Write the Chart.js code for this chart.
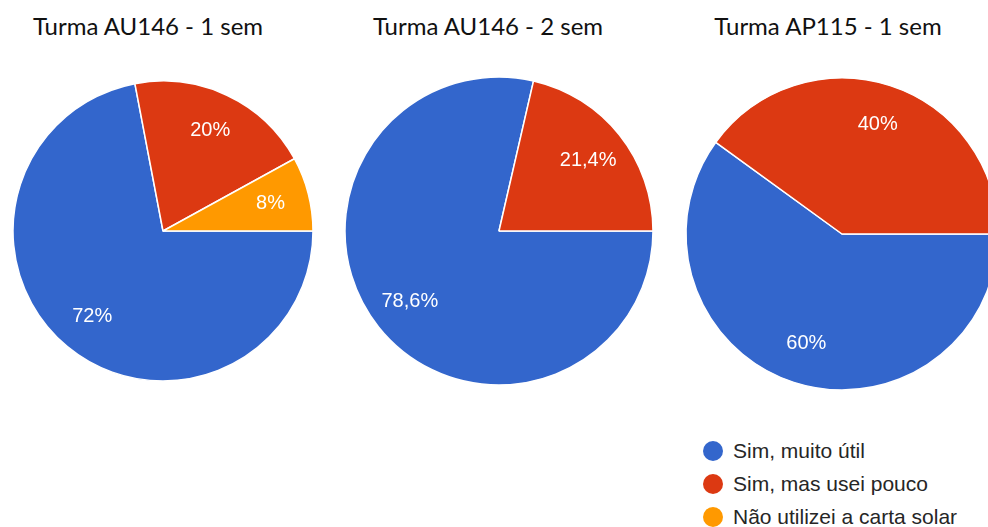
<!DOCTYPE html>
<html lang="pt-BR">
<head>
<meta charset="utf-8">
<title>Utilidade da carta solar por turma</title>
<script src="https://cdn.jsdelivr.net/npm/chart.js@4.4.1/dist/chart.umd.min.js"></script>
<style>
  html, body { margin: 0; padding: 0; background: #fff; }
  body { width: 988px; height: 527px; position: relative; overflow: hidden; }
  .title {
    position: absolute; width: 320px; text-align: center;
    font-family: Lato, "Open Sans", sans-serif; font-size: 24px; color: #111;
    line-height: 1; white-space: nowrap;
  }
  .pie { position: absolute; }
  #legend {
    position: absolute; left: 703px; top: 434px;
    font-family: "Liberation Sans", Arial, sans-serif; font-size: 21px; color: #262626;
  }
  #legend .item { height: 33px; display: flex; align-items: center; white-space: nowrap; }
  #legend .dot { width: 20px; height: 20px; border-radius: 50%; margin-right: 10px; flex: none; }
</style>
</head>
<body>
<div class="title" id="t0"></div>
<div class="title" id="t1"></div>
<div class="title" id="t2"></div>
<canvas class="pie" id="c0"></canvas>
<canvas class="pie" id="c1"></canvas>
<canvas class="pie" id="c2"></canvas>
<div id="legend"></div>
<script>
// Answer options (legend order) and their colours
const categories = ["Sim, muito útil", "Sim, mas usei pouco", "Não utilizei a carta solar"];
const colors = ["#3366CC", "#DC3912", "#FF9900"];

// One title and one percentage series per class
const titles = ["Turma AU146 - 1 sem", "Turma AU146 - 2 sem", "Turma AP115 - 1 sem"];
const au146sem1 = [72, 20, 8];
const au146sem2 = [78.6, 21.4, 0];
const ap115sem1 = [60, 40, 0];
const series = [au146sem1, au146sem2, ap115sem1];

// Placement of each pie: centre x, centre y, radius; title centre x
const pieBoxes = [
  { cx: 162.5, cy: 231, r: 150, tx: 148 },
  { cx: 498.5, cy: 231, r: 154, tx: 488 },
  { cx: 842,   cy: 234, r: 156, tx: 828 }
];

const fmt = v => String(v).replace('.', ',') + '%';

// Percentage labels inside each slice, along its bisector
const sliceLabels = {
  id: 'sliceLabels',
  afterDatasetsDraw(chart) {
    const ctx = chart.ctx;
    const meta = chart.getDatasetMeta(0);
    const data = chart.data.datasets[0].data;
    ctx.save();
    ctx.font = '20px "Liberation Sans", Arial, sans-serif';
    ctx.fillStyle = '#ffffff';
    ctx.textAlign = 'center';
    ctx.textBaseline = 'middle';
    meta.data.forEach((arc, i) => {
      if (!data[i]) return;
      const p = arc.getProps(['x', 'y', 'startAngle', 'endAngle', 'outerRadius'], true);
      const mid = (p.startAngle + p.endAngle) / 2;
      const d = p.outerRadius * 0.74;
      ctx.fillText(fmt(data[i]), p.x + Math.cos(mid) * d, p.y + Math.sin(mid) * d);
    });
    ctx.restore();
  }
};

series.forEach((vals, k) => {
  const box = pieBoxes[k];
  const size = Math.ceil(box.r * 2 + 6);
  const cv = document.getElementById('c' + k);
  cv.width = size; cv.height = size;
  cv.style.left = (box.cx - size / 2) + 'px';
  cv.style.top = (box.cy - size / 2) + 'px';

  const t = document.getElementById('t' + k);
  t.textContent = titles[k];
  t.style.left = (box.tx - 160) + 'px';
  t.style.top = '14px';

  new Chart(cv, {
    type: 'pie',
    data: {
      labels: categories,
      datasets: [{
        data: vals,
        backgroundColor: colors,
        borderColor: '#ffffff',
        borderWidth: 1.5
      }]
    },
    options: {
      responsive: false,
      animation: false,
      devicePixelRatio: 1,
      rotation: 90,
      radius: box.r,
      layout: { padding: 0 },
      plugins: { legend: { display: false }, tooltip: { enabled: false }, title: { display: false } }
    },
    plugins: [sliceLabels]
  });
});

// Shared legend
const lg = document.getElementById('legend');
categories.forEach((c, i) => {
  const row = document.createElement('div');
  row.className = 'item';
  const dot = document.createElement('span');
  dot.className = 'dot';
  dot.style.background = colors[i];
  const txt = document.createElement('span');
  txt.textContent = c;
  row.appendChild(dot); row.appendChild(txt);
  lg.appendChild(row);
});
</script>
</body>
</html>
